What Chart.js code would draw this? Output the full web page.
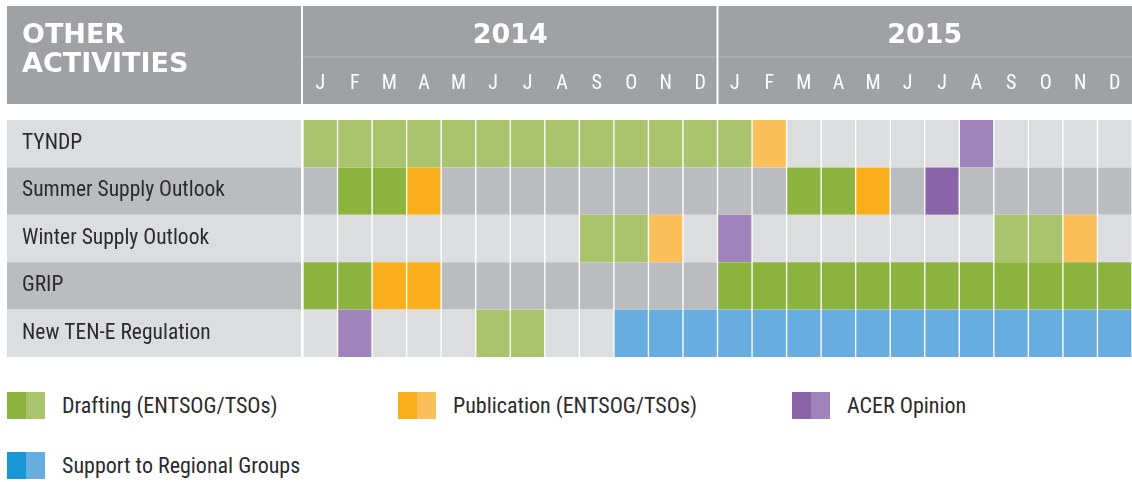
<!DOCTYPE html>
<html>
<head>
<meta charset="utf-8">
<script src="https://cdn.jsdelivr.net/npm/chart.js@4.4.1/dist/chart.umd.min.js"></script>
<style>
  body { margin: 0; background: #fff; }
  #wrap { position: relative; width: 1132px; height: 482px; }
  #chartBox { position: absolute; left: 0; top: 0; width: 1132px; height: 370px; }
  .item { position: absolute; height: 27px; display: flex; align-items: center;
          font-family: 'Roboto Condensed', 'DejaVu Sans Condensed', sans-serif;
          font-size: 22px; color: #2b2b2b; }
  .sq { display: inline-block; width: 19px; height: 27px; }
  .item span.txt { margin-left: 17px; }
</style>
</head>
<body>
<div id="wrap">
  <div id="chartBox"><canvas id="myChart"></canvas></div>
  <div id="legend"></div>
</div>
<script>
// data
const months = ['J','F','M','A','M','J','J','A','S','O','N','D','J','F','M','A','M','J','J','A','S','O','N','D'];
const years = ['2014', '2015'];
const activities = ['TYNDP', 'Summer Supply Outlook', 'Winter Supply Outlook', 'GRIP', 'New TEN-E Regulation'];

// codes: D/d drafting dark/light, P/p publication, A/a ACER opinion, s support, '-' nothing
const tyndp  = ['d','d','d','d','d','d','d','d','d','d','d','d', 'd','p','-','-','-','-','-','a','-','-','-','-'];
const summer = ['-','D','D','P','-','-','-','-','-','-','-','-', '-','-','D','D','P','-','A','-','-','-','-','-'];
const winter = ['-','-','-','-','-','-','-','-','d','d','p','-', 'a','-','-','-','-','-','-','-','d','d','p','-'];
const grip   = ['D','D','P','P','-','-','-','-','-','-','-','-', 'D','D','D','D','D','D','D','D','D','D','D','D'];
const tenE   = ['-','a','-','-','-','d','d','-','-','s','s','s', 's','s','s','s','s','s','s','s','s','s','s','s'];
const rows = [tyndp, summer, winter, grip, tenE];

const legendLabels = ['Drafting (ENTSOG/TSOs)', 'Publication (ENTSOG/TSOs)', 'ACER Opinion', 'Support to Regional Groups'];
const legendColors = [['#8db33f','#a9c46c'], ['#f9ae1b','#fcc05b'], ['#8b63a9','#a183bb'], ['#1a96d4','#67addf']];

const colors = {
  D: '#8db33f', d: '#a9c46c',
  P: '#f9ae1b', p: '#fcc05b',
  A: '#8b63a9', a: '#a183bb',
  s: '#67addf'
};
const rowBg = ['#dcdddf', '#bbbcc0'];
const narrow = "'Roboto Condensed', 'DejaVu Sans Condensed', sans-serif";

// one stacked dataset per month
const datasets = months.map((m, i) => ({
  label: m + ' ' + years[Math.floor(i / 12)],
  data: activities.map(() => 1),
  backgroundColor: rows.map((r, k) => colors[r[i]] || rowBg[k % 2]),
  borderColor: '#ffffff',
  borderWidth: { left: 1, right: 1, top: 0, bottom: 0 },
  borderSkipped: false,
  barPercentage: 1,
  categoryPercentage: 1
}));

// header band + row backgrounds of the label column
const headerPlugin = {
  id: 'header',
  beforeDraw(chart) {
    const c = chart.ctx;
    const x = chart.scales.x;
    const y = chart.scales.y;
    const left = chart.chartArea.left;
    c.save();
    c.fillStyle = '#a0a1a5';
    c.fillRect(7, 6, 1132 - 7, 98);
    c.fillStyle = '#b9babd';
    c.fillRect(left, 56.5, chart.chartArea.right - left, 1);
    c.fillStyle = '#ffffff';
    c.fillRect(left - 2, 6, 2, 98);
    const mid = x.getPixelForValue(12);
    c.fillRect(mid - 1, 6, 2, 98);

    // title
    c.fillStyle = '#ffffff';
    c.font = "bold 27px 'DejaVu Sans', sans-serif";
    c.textBaseline = 'alphabetic';
    c.textAlign = 'left';
    c.fillText('OTHER', 22, 43);
    c.fillText('ACTIVITIES', 22, 72);

    // years
    c.textAlign = 'center';
    years.forEach((yr, i) => {
      c.fillText(yr, x.getPixelForValue(i * 12 + 6), 43);
    });

    // label column rows
    const h = (y.bottom - y.top) / activities.length;
    activities.forEach((a, i) => {
      c.fillStyle = rowBg[i % 2];
      c.fillRect(7, y.top + i * h, left - 2 - 7, h);
    });
    c.restore();
  }
};

new Chart(document.getElementById('myChart'), {
  type: 'bar',
  data: { labels: activities, datasets: datasets },
  options: {
    indexAxis: 'y',
    responsive: true,
    maintainAspectRatio: false,
    animation: false,
    layout: { padding: { left: 22, top: 6, right: 0, bottom: 13 } },
    plugins: { legend: { display: false }, tooltip: { enabled: false } },
    scales: {
      x: {
        type: 'linear',
        position: 'top',
        stacked: true,
        min: 0,
        max: 24,
        grid: { display: false, drawTicks: false },
        border: { display: false },
        afterBuildTicks(scale) {
          scale.ticks = months.map((m, i) => ({ value: i + 0.5 }));
        },
        afterFit(scale) {
          scale.height = 114;
          scale.paddingLeft = 0;
          scale.paddingRight = 0;
        },
        ticks: {
          autoSkip: false,
          maxRotation: 0,
          padding: 24,
          color: '#ffffff',
          font: { family: narrow, size: 20 },
          callback: (v) => months[Math.floor(v)]
        }
      },
      y: {
        stacked: true,
        grid: { display: false, drawTicks: false },
        border: { display: false },
        afterFit(scale) { scale.width = 281; },
        ticks: {
          crossAlign: 'far',
          padding: 0,
          color: '#2b2b2b',
          font: { family: narrow, size: 21.5 }
        }
      }
    }
  },
  plugins: [headerPlugin]
});

// legend
const legendPos = [[7, 392], [398, 392], [792, 392], [7, 452]];
const legend = document.getElementById('legend');
legendLabels.forEach((t, i) => {
  const el = document.createElement('div');
  el.className = 'item';
  el.style.left = legendPos[i][0] + 'px';
  el.style.top = legendPos[i][1] + 'px';
  el.innerHTML = '<i class="sq" style="background:' + legendColors[i][0] + '"></i>' +
                 '<i class="sq" style="background:' + legendColors[i][1] + '"></i>' +
                 '<span class="txt">' + t + '</span>';
  legend.appendChild(el);
});
</script>
</body>
</html>
